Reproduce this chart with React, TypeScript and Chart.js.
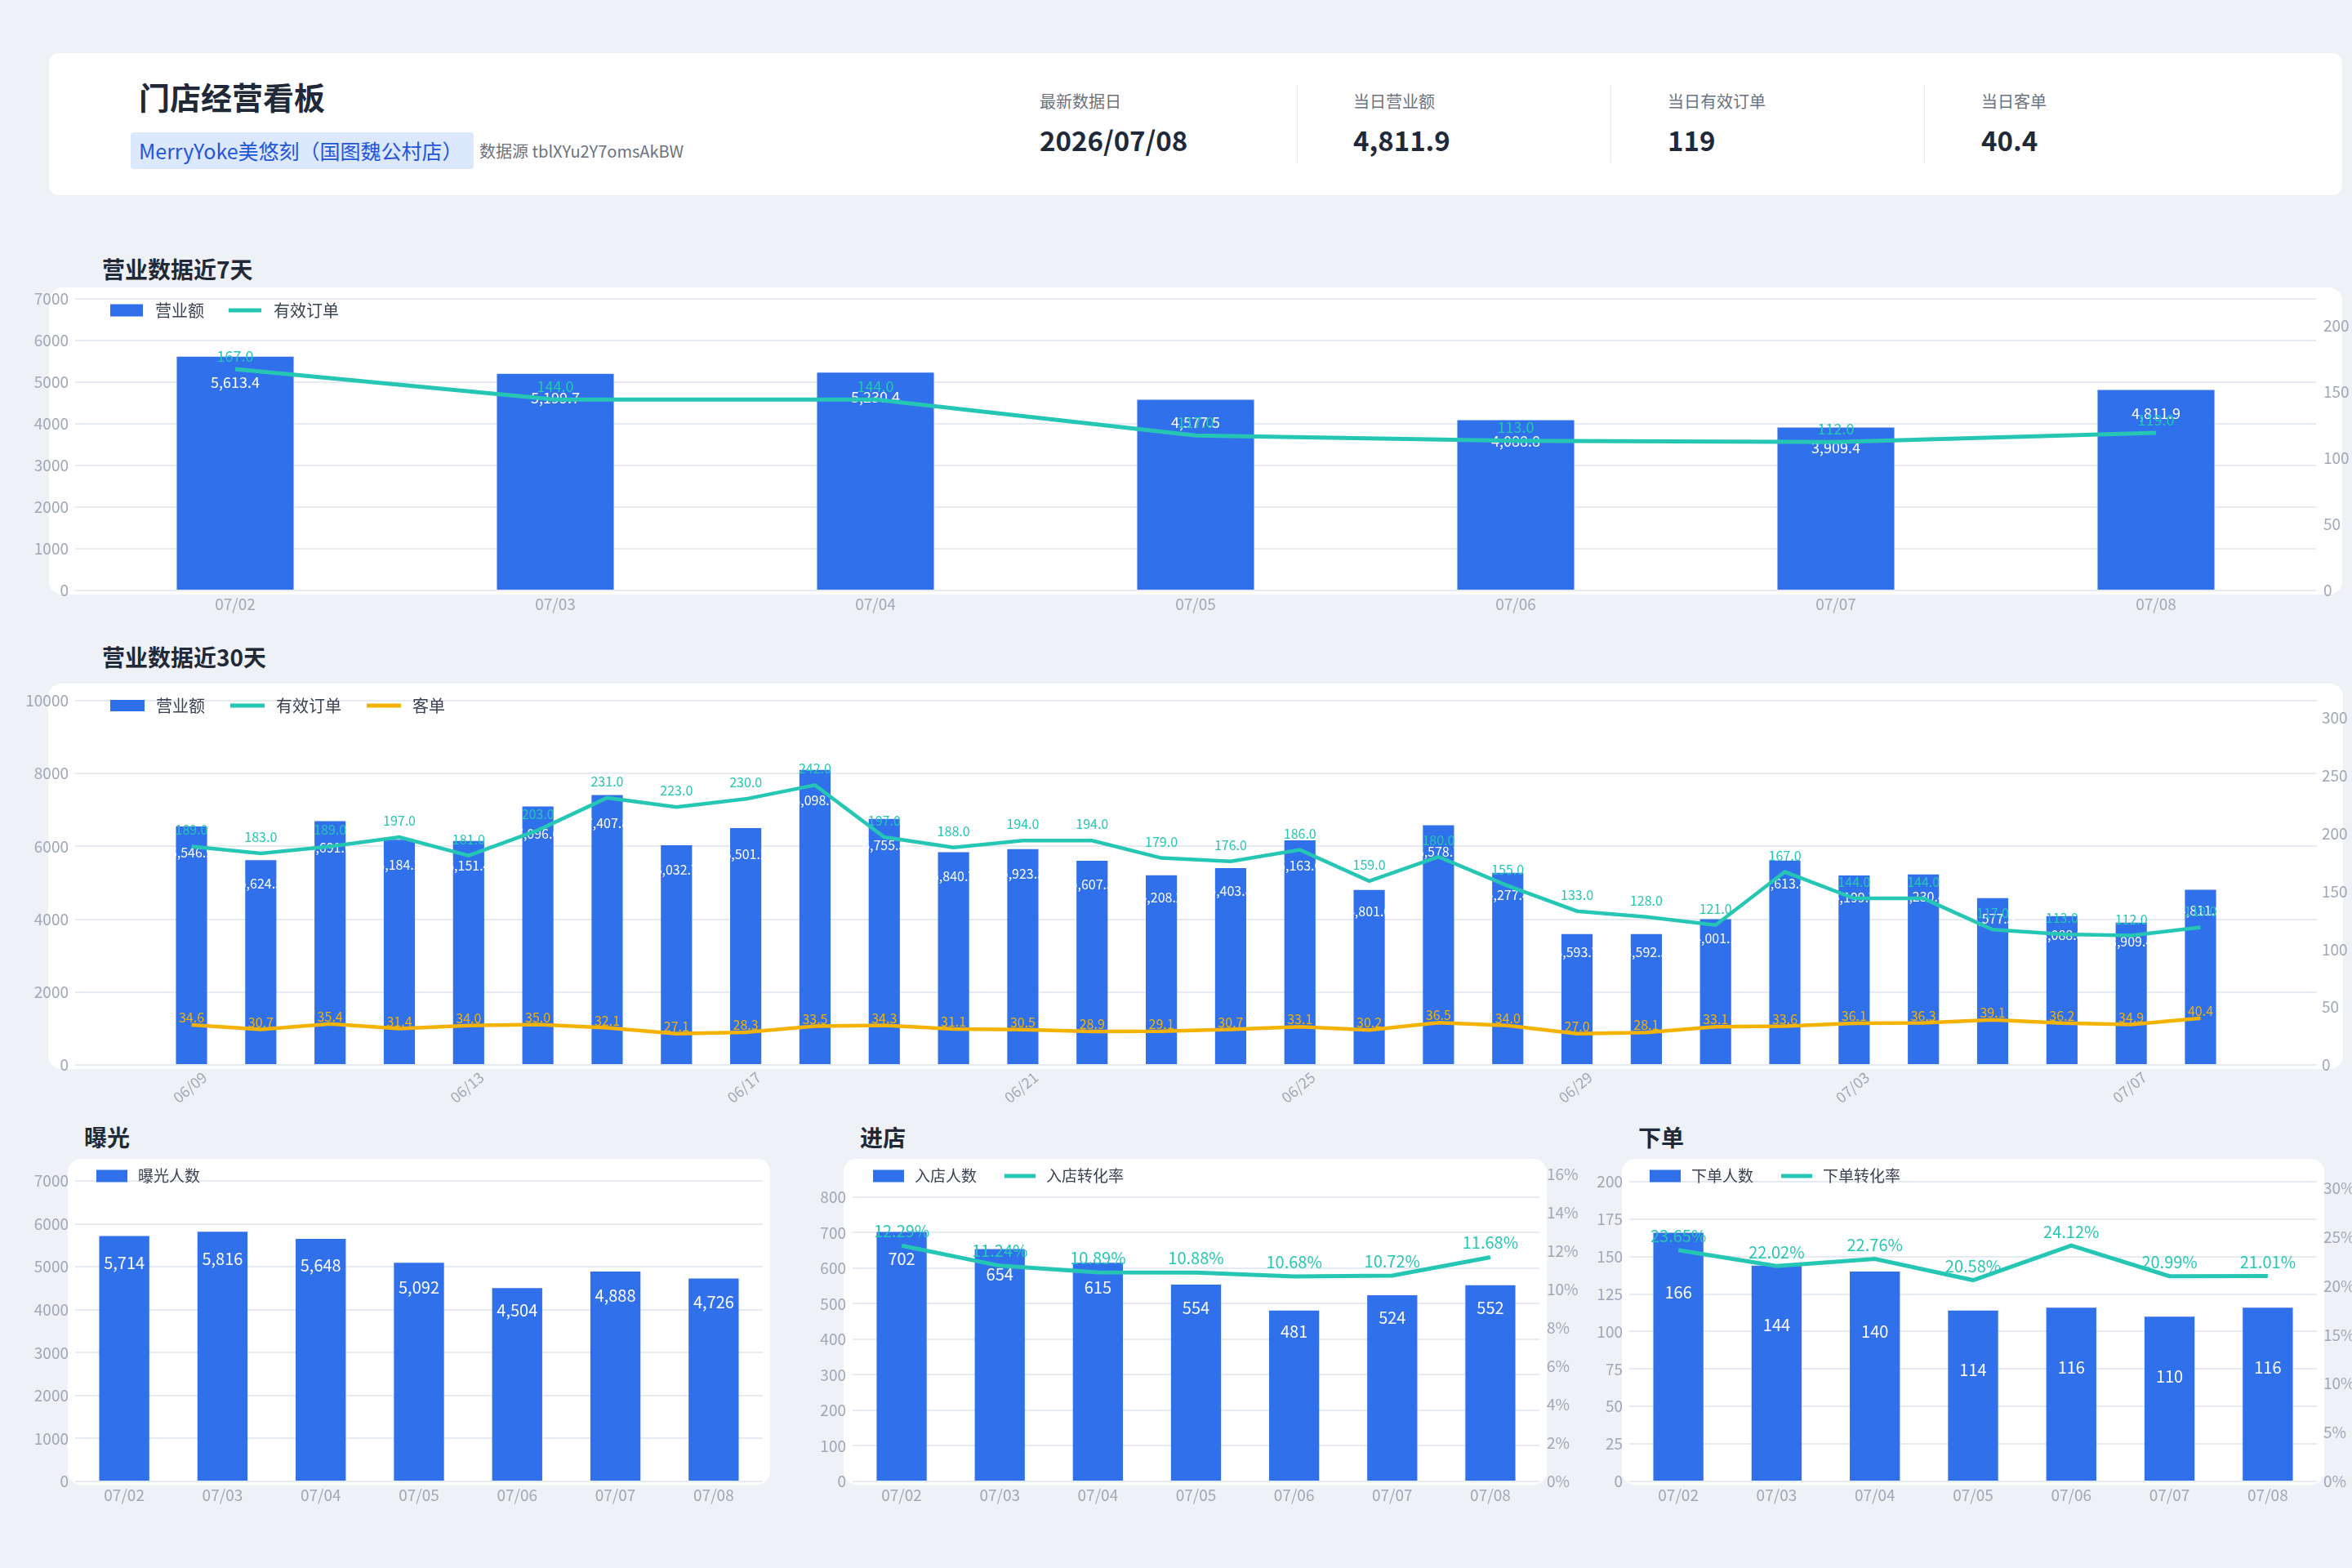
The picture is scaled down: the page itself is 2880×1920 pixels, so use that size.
import React, { useEffect, useRef } from 'react';
import { Chart, registerables } from 'chart.js';

Chart.register(...registerables);

const FONT = '"Noto Sans CJK SC", "Noto Sans", sans-serif';
const BLUE = '#3070EB';
const TEAL = '#26C6B5';
const YELLOW = '#F5B301';
const GRID = '#E6EBF2';
const TICK = '#A0A8B8';
const LEG = '#3A4150';
const DARK = '#1F2937';

Chart.defaults.font.family = FONT;
Chart.defaults.color = TICK;

// ---------------- data ----------------
const kpiLabels = ['最新数据日', '当日营业额', '当日有效订单', '当日客单'];
const kpiValues = ['2026/07/08', '4,811.9', '119', '40.4'];

const days7 = ['07/02', '07/03', '07/04', '07/05', '07/06', '07/07', '07/08'];
const revenue7 = [5613.4, 5199.7, 5230.4, 4577.5, 4088.8, 3909.4, 4811.9];
const orders7 = [167, 144, 144, 117, 113, 112, 119];

const days30 = [
  '06/09', '06/10', '06/11', '06/12', '06/13', '06/14', '06/15', '06/16', '06/17', '06/18',
  '06/19', '06/20', '06/21', '06/22', '06/23', '06/24', '06/25', '06/26', '06/27', '06/28',
  '06/29', '06/30', '07/01', '07/02', '07/03', '07/04', '07/05', '07/06', '07/07', '07/08',
];
const revenue30 = [
  6546.9, 5624.5, 6691.0, 6184.2, 6151.4, 7096.0, 7407.8, 6032.7, 6501.2, 8098.6,
  6755.5, 5840.7, 5923.3, 5607.3, 5208.2, 5403.8, 6163.6, 4801.6, 6578.7, 5277.4,
  3593.7, 3592.5, 4001.1, 5613.4, 5199.7, 5230.4, 4577.5, 4088.8, 3909.4, 4811.9,
];
const orders30 = [
  189, 183, 189, 197, 181, 203, 231, 223, 230, 242,
  197, 188, 194, 194, 179, 176, 186, 159, 180, 155,
  133, 128, 121, 167, 144, 144, 117, 113, 112, 119,
];
const ticket30 = [
  34.6, 30.7, 35.4, 31.4, 34.0, 35.0, 32.1, 27.1, 28.3, 33.5,
  34.3, 31.1, 30.5, 28.9, 29.1, 30.7, 33.1, 30.2, 36.5, 34.0,
  27.0, 28.1, 33.1, 33.6, 36.1, 36.3, 39.1, 36.2, 34.9, 40.4,
];

const exposure = [5714, 5816, 5648, 5092, 4504, 4888, 4726];
const visitors = [702, 654, 615, 554, 481, 524, 552];
const visitRate = [12.29, 11.24, 10.89, 10.88, 10.68, 10.72, 11.68];
const buyers = [166, 144, 140, 114, 116, 110, 116];
const buyRate = [23.65, 22.02, 22.76, 20.58, 24.12, 20.99, 21.01];

// ---------------- formatters ----------------
const fmt1c = (v: number) => v.toLocaleString('en-US', { minimumFractionDigits: 1, maximumFractionDigits: 1 });
const fmt0c = (v: number) => v.toLocaleString('en-US', { maximumFractionDigits: 0 });
const fmt1 = (v: number) => v.toFixed(1);
const fmtPct = (v: number) => v.toFixed(2) + '%';

// ---------------- plugins ----------------
const labelPlugin = {
  id: 'valueLabels',
  afterDatasetDraw(chart: any, args: any) {
    const ds = chart.data.datasets[args.index];
    const cfg = ds.valueLabel;
    if (!cfg) return;
    const ctx = chart.ctx;
    ctx.save();
    ctx.font = `${cfg.size}px ${FONT}`;
    ctx.fillStyle = cfg.color;
    ctx.textAlign = 'center';
    ctx.textBaseline = 'middle';
    args.meta.data.forEach((el: any, i: number) => {
      const raw = ds.data[i];
      const v = typeof raw === 'object' ? raw.y : raw;
      let y: number;
      if (cfg.mode === 'bar') {
        const h = el.base - el.y;
        y = el.y + cfg.fixed + cfg.frac * h;
      } else {
        y = el.y - cfg.above;
      }
      ctx.fillText(cfg.fmt(v), el.x, y);
    });
    ctx.restore();
  },
};

const legendPlugin = {
  id: 'manualLegend',
  afterDraw(chart: any, _args: any, o: any) {
    if (!o || o.x === undefined) return;
    const ctx = chart.ctx;
    let x = o.x;
    const y = o.y;
    ctx.save();
    ctx.font = `${o.size}px ${FONT}`;
    ctx.textBaseline = 'middle';
    ctx.textAlign = 'left';
    chart.data.datasets.forEach((ds: any) => {
      if (ds.type === 'line') {
        ctx.strokeStyle = ds.borderColor;
        ctx.lineWidth = o.lineW;
        ctx.beginPath();
        ctx.moveTo(x, y);
        ctx.lineTo(x + o.markW, y);
        ctx.stroke();
      } else {
        ctx.fillStyle = ds.backgroundColor;
        ctx.fillRect(x, y - o.markH / 2, o.markW, o.markH);
      }
      x += o.markW + o.gap;
      ctx.fillStyle = o.color;
      ctx.fillText(ds.label, x, y);
      x += ctx.measureText(ds.label).width + o.itemGap;
    });
    ctx.restore();
  },
};

// ---------------- axis helpers ----------------
function yAxis(pos: 'left' | 'right', max: number, step: number, width: number, pad: number, size: number, grid: boolean, suffix = '') {
  return {
    type: 'linear',
    position: pos,
    min: 0,
    max,
    grid: grid ? { color: GRID, lineWidth: 2, drawTicks: false } : { display: false, drawTicks: false },
    border: { display: false },
    ticks: {
      padding: pad,
      color: TICK,
      font: { family: FONT, size },
      callback: (v: any) => String(v) + suffix,
    },
    afterBuildTicks: (s: any) => {
      const t: any[] = [];
      for (let v = 0; v <= max + 1e-9; v += step) t.push({ value: Math.round(v * 1000) / 1000 });
      s.ticks = t;
    },
    afterFit: (s: any) => {
      s.width = width;
    },
  };
}

function catX(size: number, pad: number, h: number) {
  return {
    type: 'category',
    offset: true,
    grid: { display: false, drawTicks: false },
    border: { display: false },
    ticks: { color: TICK, font: { family: FONT, size }, padding: pad, maxRotation: 0, minRotation: 0, autoSkip: false },
    afterFit: (s: any) => {
      s.height = h;
    },
  };
}

const baseOptions = (padding: any, legend: any, scales: any) => ({
  responsive: false,
  animation: false,
  devicePixelRatio: 1,
  events: [],
  layout: { padding },
  plugins: { legend: { display: false }, tooltip: { enabled: false }, manualLegend: legend },
  scales,
});

// ---------------- chart configs ----------------
const cfg7 = () => ({
  type: 'bar',
  data: {
    labels: days7,
    datasets: [
      {
        type: 'bar', label: '营业额', data: revenue7, backgroundColor: BLUE, yAxisID: 'y', order: 2,
        barPercentage: 0.365, categoryPercentage: 1,
        valueLabel: { mode: 'bar', size: 18, color: '#FFFFFF', fixed: 10, frac: 0.075, fmt: fmt1c },
      },
      {
        type: 'line', label: '有效订单', data: orders7, borderColor: TEAL, backgroundColor: TEAL, borderWidth: 5,
        pointRadius: 0, tension: 0, yAxisID: 'y1', order: 1,
        valueLabel: { mode: 'line', size: 18, color: TEAL, above: 16, fmt: fmt1 },
      },
    ],
  },
  options: baseOptions(
    { top: 24, left: 0, right: 0, bottom: 0 },
    { x: 123, y: 38, size: 20, markW: 40, markH: 15, lineW: 5, gap: 15, itemGap: 30, color: LEG },
    {
      x: catX(19, 5, 40),
      y: yAxis('left', 7000, 1000, 80, 8, 19, true),
      y1: yAxis('right', 220, 50, 44, 9, 19, false),
    }
  ),
  plugins: [labelPlugin, legendPlugin],
});

const idx30 = days30.map((_, i) => i);
const cfg30 = () => ({
  type: 'bar',
  data: {
    datasets: [
      {
        type: 'bar', label: '营业额', data: revenue30.map((v, i) => ({ x: i, y: v })), backgroundColor: BLUE,
        yAxisID: 'y', order: 3, barPercentage: 0.45, categoryPercentage: 1,
        valueLabel: { mode: 'bar', size: 16, color: '#FFFFFF', fixed: 10, frac: 0.075, fmt: fmt1c },
      },
      {
        type: 'line', label: '有效订单', data: orders30.map((v, i) => ({ x: i, y: v })), borderColor: TEAL,
        backgroundColor: TEAL, borderWidth: 4.5, pointRadius: 0, tension: 0, yAxisID: 'y1', order: 2,
        valueLabel: { mode: 'line', size: 16, color: TEAL, above: 20, fmt: fmt1 },
      },
      {
        type: 'line', label: '客单', data: ticket30.map((v, i) => ({ x: i, y: v })), borderColor: YELLOW,
        backgroundColor: YELLOW, borderWidth: 4.5, pointRadius: 0, tension: 0, yAxisID: 'y1', order: 1,
        valueLabel: { mode: 'line', size: 16, color: YELLOW, above: 9, fmt: fmt1 },
      },
    ],
  },
  options: baseOptions(
    { top: 24, left: 0, right: 0, bottom: 0 },
    { x: 123, y: 30, size: 20, markW: 42, markH: 14, lineW: 5, gap: 14, itemGap: 31, color: LEG },
    {
      x: {
        type: 'linear',
        offset: false,
        min: -1.68,
        max: days30.length - 1 + 1.68,
        grid: { display: false, drawTicks: false },
        border: { display: false },
        afterBuildTicks: (s: any) => {
          s.ticks = idx30.filter((i) => i % 4 === 0).map((v) => ({ value: v }));
        },
        ticks: {
          autoSkip: false,
          minRotation: 40,
          maxRotation: 40,
          padding: 4,
          labelOffset: 16,
          color: TICK,
          font: { family: FONT, size: 18 },
          callback: (v: any) => days30[v] ?? '',
        },
        afterFit: (s: any) => {
          s.height = 60;
        },
      },
      y: yAxis('left', 10000, 2000, 80, 8, 19, true),
      y1: yAxis('right', 315, 50, 43, 6, 19, false),
    }
  ),
  plugins: [labelPlugin, legendPlugin],
});

const bottomLegend = (x: number) => ({ x, y: 24, size: 19, markW: 38, markH: 15, lineW: 5, gap: 13, itemGap: 34, color: LEG });

const cfgExposure = () => ({
  type: 'bar',
  data: {
    labels: days7,
    datasets: [
      {
        type: 'bar', label: '曝光人数', data: exposure, backgroundColor: BLUE, yAxisID: 'y', order: 2,
        barPercentage: 0.51, categoryPercentage: 1,
        valueLabel: { mode: 'bar', size: 20, color: '#FFFFFF', fixed: 10, frac: 0.075, fmt: fmt0c },
      },
    ],
  },
  options: baseOptions(
    { top: 22, left: 0, right: 10, bottom: 0 },
    bottomLegend(106),
    {
      x: catX(19, 5, 40),
      y: yAxis('left', 7152, 1000, 80, 8, 19, true),
    }
  ),
  plugins: [labelPlugin, legendPlugin],
});

const cfgVisit = () => ({
  type: 'bar',
  data: {
    labels: days7,
    datasets: [
      {
        type: 'bar', label: '入店人数', data: visitors, backgroundColor: BLUE, yAxisID: 'y', order: 2,
        barPercentage: 0.51, categoryPercentage: 1,
        valueLabel: { mode: 'bar', size: 20, color: '#FFFFFF', fixed: 10, frac: 0.075, fmt: fmt0c },
      },
      {
        type: 'line', label: '入店转化率', data: visitRate, borderColor: TEAL, backgroundColor: TEAL, borderWidth: 5,
        pointRadius: 0, tension: 0, yAxisID: 'y1', order: 1,
        valueLabel: { mode: 'line', size: 20, color: TEAL, above: 18, fmt: fmtPct },
      },
    ],
  },
  options: baseOptions(
    { top: 22, left: 0, right: 0, bottom: 0 },
    bottomLegend(105),
    {
      x: catX(19, 5, 40),
      y: yAxis('left', 864, 100, 80, 8, 19, true),
      y1: yAxis('right', 16, 2, 50, 9, 19, false, '%'),
    }
  ),
  plugins: [labelPlugin, legendPlugin],
});

const cfgBuy = () => ({
  type: 'bar',
  data: {
    labels: days7,
    datasets: [
      {
        type: 'bar', label: '下单人数', data: buyers, backgroundColor: BLUE, yAxisID: 'y', order: 2,
        barPercentage: 0.51, categoryPercentage: 1,
        valueLabel: { mode: 'bar', size: 20, color: '#FFFFFF', fixed: 73, frac: 0, fmt: fmt0c },
      },
      {
        type: 'line', label: '下单转化率', data: buyRate, borderColor: TEAL, backgroundColor: TEAL, borderWidth: 5,
        pointRadius: 0, tension: 0, yAxisID: 'y1', order: 1,
        valueLabel: { mode: 'line', size: 20, color: TEAL, above: 17, fmt: fmtPct },
      },
    ],
  },
  options: baseOptions(
    { top: 22, left: 0, right: 0, bottom: 0 },
    bottomLegend(105),
    {
      x: catX(19, 5, 40),
      y: yAxis('left', 204.9, 25, 80, 8, 19, true),
      y1: yAxis('right', 31.4, 5, 43, 8, 19, false, '%'),
    }
  ),
  plugins: [labelPlugin, legendPlugin],
});

// ---------------- components ----------------
type Box = { left: number; top: number; width: number; height: number };

function ChartCanvas({ box, build }: { box: Box; build: () => any }) {
  const ref = useRef<HTMLCanvasElement>(null);
  useEffect(() => {
    const chart = new Chart(ref.current as HTMLCanvasElement, build() as any);
    return () => chart.destroy();
  }, []);
  return (
    <canvas
      ref={ref}
      width={box.width}
      height={box.height}
      style={{ position: 'absolute', left: box.left, top: box.top, width: box.width, height: box.height }}
    />
  );
}

function Card({ l, t, r, b, radius = 16 }: { l: number; t: number; r: number; b: number; radius?: number }) {
  return (
    <div
      style={{ position: 'absolute', left: l, top: t, width: r - l, height: b - t, background: '#FFFFFF', borderRadius: radius }}
    />
  );
}

function Text({ x, cy, size, bold, color, children }: any) {
  return (
    <div
      style={{
        position: 'absolute', left: x, top: cy - size * 0.75, height: size * 1.5, lineHeight: `${size * 1.5}px`,
        fontSize: size, fontWeight: bold ? 700 : 400, color, whiteSpace: 'nowrap', fontFamily: FONT,
      }}
    >
      {children}
    </div>
  );
}

const kpiX = [1273, 1657, 2042, 2426];
const dividerX = [1588, 1972, 2356];

export default function App() {
  return (
    <div
      style={{
        position: 'absolute', left: 0, top: 0, width: 2880, height: 1920, background: '#EEF1F6',
        overflow: 'hidden', fontFamily: FONT,
      }}
    >
      {/* header */}
      <Card l={60} t={65} r={2868} b={239} radius={12} />
      <Text x={170} cy={117} size={38} bold color={DARK}>门店经营看板</Text>
      <div
        style={{
          position: 'absolute', left: 160, top: 162, height: 45, width: 420, background: '#DBE8FE', borderRadius: 4,
          color: '#2454D9', fontSize: 25, lineHeight: '45px', paddingLeft: 10, boxSizing: 'border-box', whiteSpace: 'nowrap',
        }}
      >
        MerryYoke美悠刻（国图魏公村店）
      </div>
      <Text x={587} cy={185} size={20} color="#6B7280">数据源 tblXYu2Y7omsAkBW</Text>
      {kpiLabels.map((l, i) => (
        <Text key={'kl' + i} x={kpiX[i]} cy={124} size={20} color="#6B7280">{l}</Text>
      ))}
      {kpiValues.map((v, i) => (
        <Text key={'kv' + i} x={kpiX[i]} cy={172} size={33} bold color="#1E293B">{v}</Text>
      ))}
      {dividerX.map((x, i) => (
        <div key={'d' + i} style={{ position: 'absolute', left: x, top: 103, width: 1, height: 95, background: '#E3E7EE' }} />
      ))}

      {/* 7 days */}
      <Text x={125} cy={329} size={28} bold color={DARK}>营业数据近7天</Text>
      <Card l={60} t={352} r={2868} b={728} />
      <ChartCanvas box={{ left: 12, top: 342, width: 2868, height: 421 }} build={cfg7} />

      {/* 30 days */}
      <Text x={125} cy={804} size={28} bold color={DARK}>营业数据近30天</Text>
      <Card l={59} t={837} r={2869} b={1309} />
      <ChartCanvas box={{ left: 12, top: 834, width: 2868, height: 530 }} build={cfg30} />

      {/* bottom panels */}
      <Text x={103} cy={1392} size={28} bold color={DARK}>曝光</Text>
      <Text x={1053} cy={1392} size={28} bold color={DARK}>进店</Text>
      <Text x={2006} cy={1392} size={28} bold color={DARK}>下单</Text>
      <Card l={83} t={1419} r={943} b={1818} />
      <Card l={1033} t={1419} r={1894} b={1818} />
      <Card l={1986} t={1419} r={2846} b={1818} />
      <ChartCanvas box={{ left: 12, top: 1416, width: 932, height: 438 }} build={cfgExposure} />
      <ChartCanvas box={{ left: 964, top: 1416, width: 971, height: 438 }} build={cfgVisit} />
      <ChartCanvas box={{ left: 1915, top: 1416, width: 965, height: 438 }} build={cfgBuy} />
    </div>
  );
}
